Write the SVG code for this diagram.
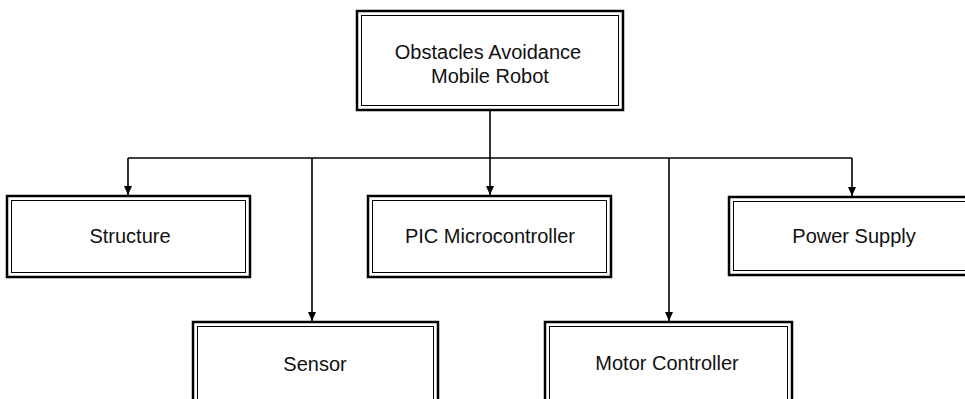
<svg xmlns="http://www.w3.org/2000/svg" width="965" height="399" viewBox="0 0 965 399">
  <style>
    .outer { fill: #fff; stroke: #000; stroke-width: 2.5; }
    .inner { fill: none; stroke: #000; stroke-width: 1; }
    .label { font-family: "Liberation Sans", Arial, sans-serif; font-size: 20px; fill: #111; text-anchor: middle; }
    .wire { fill: none; stroke: #000; stroke-width: 1.6; }
  </style>
  <defs>
    <marker id="arrow" viewBox="0 0 9 8" refX="9" refY="4" markerWidth="9" markerHeight="8" markerUnits="userSpaceOnUse" orient="auto">
      <path d="M0,0 L9,4 L0,8 Z" fill="#000"/>
    </marker>
  </defs>
  <rect width="965" height="399" fill="#fff"/>

  <g id="connectors">
    <line class="wire" x1="490" y1="110" x2="490" y2="158"/>
    <line class="wire" x1="128" y1="158" x2="852" y2="158"/>
    <path class="wire" d="M128,158 V195" marker-end="url(#arrow)"/>
    <path class="wire" d="M312,158 V321" marker-end="url(#arrow)"/>
    <path class="wire" d="M490,158 V195" marker-end="url(#arrow)"/>
    <path class="wire" d="M669,158 V321" marker-end="url(#arrow)"/>
    <path class="wire" d="M852,158 V196" marker-end="url(#arrow)"/>
  </g>

  <g id="node-robot">
    <rect class="outer" x="357" y="11" width="266" height="99"/>
    <rect class="inner" x="361.5" y="15.5" width="257" height="90"/>
    <text class="label" x="488" y="59">Obstacles Avoidance</text>
    <text class="label" x="490" y="83">Mobile Robot</text>
  </g>

  <g id="node-structure">
    <rect class="outer" x="7" y="196" width="243" height="81"/>
    <rect class="inner" x="11.5" y="200.5" width="234" height="72"/>
    <text class="label" x="130" y="243">Structure</text>
  </g>

  <g id="node-pic">
    <rect class="outer" x="368" y="196" width="243" height="81"/>
    <rect class="inner" x="372.5" y="200.5" width="234" height="72"/>
    <text class="label" x="490" y="243">PIC Microcontroller</text>
  </g>

  <g id="node-power">
    <rect class="outer" x="729" y="197" width="250" height="78"/>
    <rect class="inner" x="733.5" y="201.5" width="241" height="69"/>
    <text class="label" x="854" y="243">Power Supply</text>
  </g>

  <g id="node-sensor">
    <rect class="outer" x="193" y="322" width="245" height="100"/>
    <rect class="inner" x="197.5" y="326.5" width="236" height="91"/>
    <text class="label" x="315" y="371">Sensor</text>
  </g>

  <g id="node-motor">
    <rect class="outer" x="545" y="322" width="247" height="100"/>
    <rect class="inner" x="549.5" y="326.5" width="238" height="91"/>
    <text class="label" x="667" y="370">Motor Controller</text>
  </g>
</svg>
